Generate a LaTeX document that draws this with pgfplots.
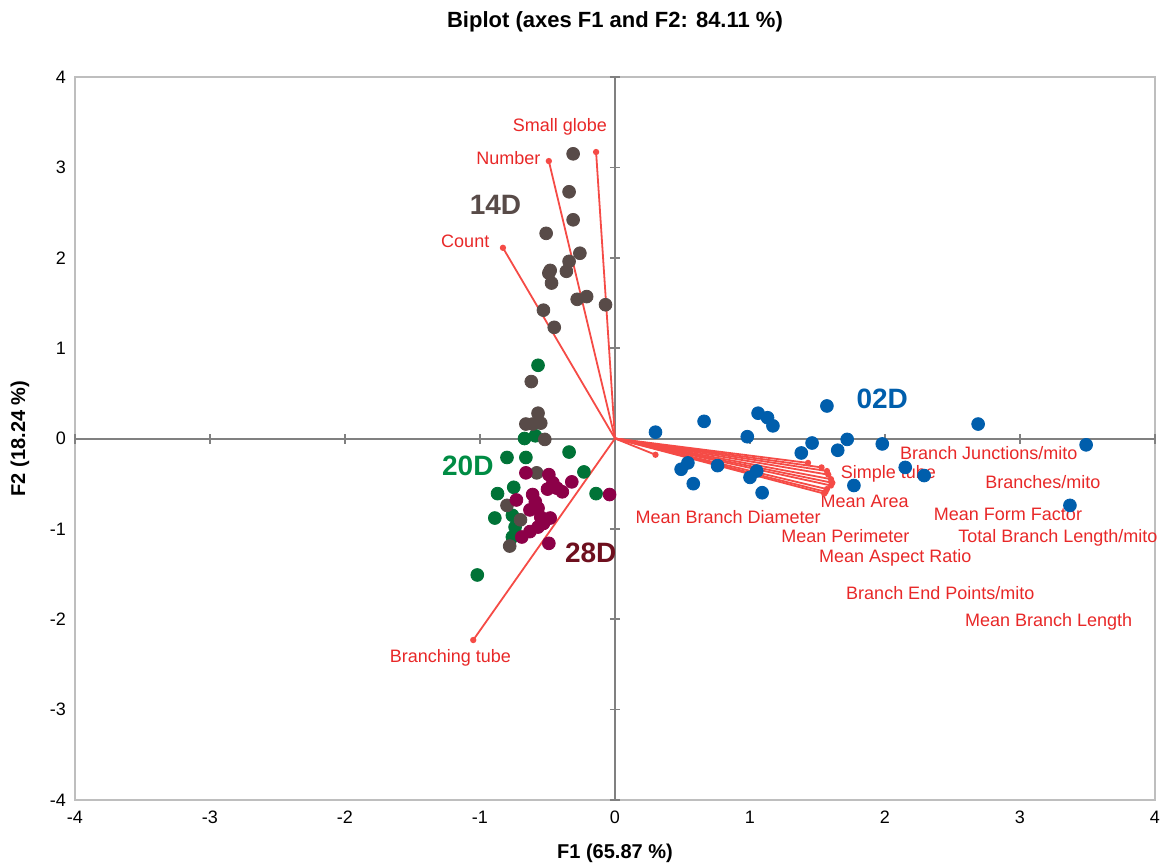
\documentclass[border=0pt]{standalone}
\usepackage{pgfplots}
\pgfplotsset{compat=1.18}
\usepackage{fontspec}
\setmainfont{Liberation Sans}
\definecolor{cblue}{RGB}{0,94,172}
\definecolor{cgray}{RGB}{88,75,72}
\definecolor{cgreen}{RGB}{0,115,55}
\definecolor{cpurple}{RGB}{140,0,72}
\definecolor{lgreen}{RGB}{0,140,68}
\definecolor{lred}{RGB}{110,15,30}
\definecolor{vred}{RGB}{245,75,70}
\definecolor{tred}{RGB}{232,40,40}
\definecolor{framegray}{RGB}{190,190,190}
\definecolor{zerogray}{RGB}{128,128,128}
\begin{document}
\begin{tikzpicture}
\begin{axis}[
  at={(0,0)}, anchor=south west,
  width=540pt, height=361.5pt, scale only axis,
  xmin=-4, xmax=4, ymin=-4, ymax=4,
  xtick={-4,-3,...,4}, ytick={-4,-3,...,4},
  tick style={draw=none},
  axis line style={draw=framegray, line width=0.75pt},
  ticklabel style={font=\fontsize{9}{10}\selectfont},
  xticklabel style={yshift=-2pt},
  yticklabel style={xshift=-1pt},
  /pgf/number format/assume math mode=true,
  xlabel={F1 (65.87 \%)},
  xlabel style={font=\fontsize{10}{12}\selectfont\bfseries, at={(axis description cs:0.5,0)}, anchor=center, yshift=-26.5pt},
  ylabel={F2 (18.24 \%)},
  ylabel style={font=\fontsize{10}{12}\selectfont\bfseries, at={(axis description cs:-0.0509,0.5)}, anchor=center},
  clip=false,
]
\node[font=\fontsize{11}{12}\selectfont\bfseries, anchor=center] at (axis description cs:0.5,1.0761) {Biplot (axes F1 and F2: 84.11 \%)};
% zero lines and their ticks
\draw[zerogray, line width=1pt] (axis cs:-4,0) -- (axis cs:4,0);
\draw[zerogray, line width=1pt] (axis cs:0,-4) -- (axis cs:0,4);
\pgfplotsinvokeforeach{-4,-3,...,4}{
  \draw[zerogray, line width=0.8pt] ([xshift=-2.5pt]axis cs:0,#1) -- ([xshift=2.5pt]axis cs:0,#1);
  \draw[zerogray, line width=0.8pt] ([yshift=-2.5pt]axis cs:#1,0) -- ([yshift=2.5pt]axis cs:#1,0);
}
% variable vectors
\pgfplotsset{vec/.style={vred, line width=0.9pt, mark=*, mark size=1.1pt, mark indices={2}, mark options={fill=vred, draw=vred}}}
\addplot[vec] coordinates {(0,0) (-0.14,3.17)};
\addplot[vec] coordinates {(0,0) (-0.49,3.07)};
\addplot[vec] coordinates {(0,0) (-0.83,2.11)};
\addplot[vec] coordinates {(0,0) (-1.05,-2.23)};
\addplot[vec] coordinates {(0,0) (0.30,-0.18)};
\addplot[vec] coordinates {(0,0) (1.43,-0.27)};
\addplot[vec] coordinates {(0,0) (1.53,-0.32)};
\addplot[vec] coordinates {(0,0) (1.57,-0.36)};
\addplot[vec] coordinates {(0,0) (1.58,-0.40)};
\addplot[vec] coordinates {(0,0) (1.60,-0.45)};
\addplot[vec] coordinates {(0,0) (1.61,-0.49)};
\addplot[vec] coordinates {(0,0) (1.60,-0.52)};
\addplot[vec] coordinates {(0,0) (1.57,-0.56)};
\addplot[vec] coordinates {(0,0) (1.56,-0.59)};
\addplot[vec] coordinates {(0,0) (1.55,-0.61)};
% observations
\addplot[only marks, mark=*, mark size=3.2pt, mark options={draw=cblue, fill=cblue}] table {
x y
0.30 0.07
0.66 0.19
0.98 0.02
1.06 0.28
1.13 0.23
1.17 0.14
1.57 0.36
0.49 -0.34
0.54 -0.27
0.58 -0.50
0.76 -0.30
1.00 -0.43
1.05 -0.36
1.09 -0.60
1.38 -0.16
1.46 -0.05
1.72 -0.01
1.65 -0.13
1.77 -0.52
1.98 -0.06
2.69 0.16
3.49 -0.07
2.15 -0.32
2.29 -0.41
3.37 -0.74
};
\addplot[only marks, mark=*, mark size=3.2pt, mark options={draw=cgreen, fill=cgreen}] table {
x y
-0.57 0.81
-0.67 0.00
-0.59 0.03
-0.34 -0.15
-0.80 -0.21
-0.66 -0.21
-0.23 -0.37
-0.14 -0.61
-0.87 -0.61
-0.75 -0.54
-0.89 -0.88
-0.76 -0.85
-0.74 -0.98
-0.76 -1.09
-1.02 -1.51
};
\addplot[only marks, mark=*, mark size=3.2pt, mark options={draw=cgray, fill=cgray}] table {
x y
-0.31 3.15
-0.34 2.73
-0.31 2.42
-0.51 2.27
-0.26 2.05
-0.34 1.96
-0.36 1.85
-0.48 1.86
-0.49 1.83
-0.47 1.72
-0.28 1.54
-0.21 1.57
-0.07 1.48
-0.53 1.42
-0.45 1.23
-0.62 0.63
-0.57 0.28
-0.66 0.16
-0.61 0.16
-0.55 0.17
-0.52 -0.01
-0.58 -0.38
-0.80 -0.74
-0.70 -0.90
-0.78 -1.19
};
\addplot[only marks, mark=*, mark size=3.2pt, mark options={draw=cpurple, fill=cpurple}] table {
x y
-0.66 -0.38
-0.49 -0.40
-0.46 -0.49
-0.43 -0.55
-0.50 -0.56
-0.39 -0.59
-0.32 -0.48
-0.04 -0.62
-0.73 -0.68
-0.61 -0.62
-0.59 -0.70
-0.63 -0.79
-0.57 -0.77
-0.55 -0.87
-0.48 -0.88
-0.53 -0.94
-0.57 -0.98
-0.63 -1.03
-0.69 -1.09
-0.49 -1.16
};
% variable labels
\begin{scope}[every node/.style={font=\fontsize{9}{10}\selectfont, text=tred, anchor=west, inner sep=0pt}]
\node at (axis cs:-0.76,3.45) {Small globe};
\node at (axis cs:-1.03,3.10) {Number};
\node at (axis cs:-1.29,2.18) {Count};
\node at (axis cs:-1.67,-2.43) {Branching tube};
\node at (axis cs:2.11,-0.16) {Branch Junctions/mito};
\node at (axis cs:1.67,-0.39) {Simple tube};
\node at (axis cs:2.74,-0.48) {Branches/mito};
\node at (axis cs:1.52,-0.70) {Mean Area};
\node at (axis cs:2.36,-0.84) {Mean Form Factor};
\node at (axis cs:0.15,-0.87) {Mean Branch Diameter};
\node at (axis cs:1.23,-1.08) {Mean Perimeter};
\node at (axis cs:2.54,-1.10) {Total Branch Length/mito};
\node at (axis cs:1.51,-1.32) {Mean Aspect Ratio};
\node at (axis cs:1.71,-1.71) {Branch End Points/mito};
\node at (axis cs:2.59,-2.03) {Mean Branch Length};
\end{scope}
% group labels
\begin{scope}[every node/.style={font=\fontsize{14}{16}\selectfont\bfseries, anchor=center, inner sep=0pt}]
\node[text=cgray] at (axis cs:-0.885,2.58) {14D};
\node[text=cblue] at (axis cs:1.98,0.44) {02D};
\node[text=lgreen] at (axis cs:-1.09,-0.30) {20D};
\node[text=lred] at (axis cs:-0.18,-1.26) {28D};
\end{scope}
\end{axis}
\pgfresetboundingbox
\path (-37.5pt,-32pt) rectangle (544.5pt,400pt);
\end{tikzpicture}
\end{document}
